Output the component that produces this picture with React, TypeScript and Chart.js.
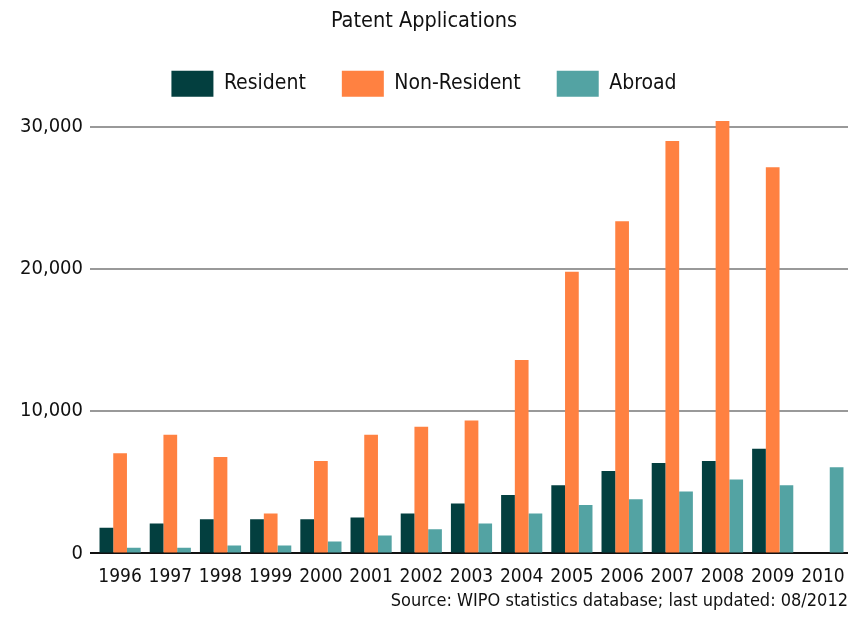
import React, { useEffect, useRef } from "react";
import { Chart, registerables } from "chart.js";

Chart.register(...registerables);

const years = ["1996", "1997", "1998", "1999", "2000", "2001", "2002", "2003", "2004", "2005", "2006", "2007", "2008", "2009", "2010"];
const resident = [1800, 2100, 2400, 2400, 2400, 2530, 2800, 3500, 4100, 4800, 5800, 6350, 6500, 7350, null];
const nonResident = [7050, 8350, 6770, 2800, 6500, 8350, 8900, 9350, 13600, 19800, 23350, 29000, 30400, 27150, null];
const abroad = [400, 400, 550, 550, 830, 1250, 1700, 2100, 2800, 3400, 3800, 4350, 5200, 4800, 6050];
const yTicks = [0, 10000, 20000, 30000];

const FONT = "'DejaVu Sans Condensed', 'DejaVu Sans', sans-serif";

export default function App() {
  const ref = useRef<HTMLCanvasElement | null>(null);
  useEffect(() => {
    if (!ref.current) return;
    const chart = new Chart(ref.current, {
      type: "bar",
      data: {
        labels: years,
        datasets: [
          { label: "Resident", data: resident, backgroundColor: "#033f3f" },
          { label: "Non-Resident", data: nonResident, backgroundColor: "#ff8141" },
          { label: "Abroad", data: abroad, backgroundColor: "#53a3a3" },
        ],
      },
      options: {
        responsive: false,
        animation: false,
        layout: { padding: { left: 0, right: 14, top: 0, bottom: 6 } },
        datasets: { bar: { barPercentage: 1, categoryPercentage: 0.82 } },
        plugins: {
          tooltip: { enabled: false },
          title: {
            display: true,
            text: "Patent Applications",
            color: "#111",
            font: { family: FONT, size: 21.5, weight: "normal" },
            padding: { top: 9, bottom: 0 },
          },
          legend: {
            display: true,
            position: "top",
            labels: {
              boxWidth: 42,
              boxHeight: 26,
              padding: 36,
              color: "#111",
              font: { family: FONT, size: 21 },
            },
          },
          subtitle: {
            display: true,
            position: "bottom",
            align: "end",
            text: "Source: WIPO statistics database; last updated: 08/2012",
            color: "#111",
            font: { family: FONT, size: 18, weight: "normal" },
            padding: { top: 1, bottom: 0 },
          },
        },
        scales: {
          x: {
            grid: { display: false },
            border: { display: false },
            ticks: { color: "#111", font: { family: FONT, size: 19 }, padding: 4, maxRotation: 0, autoSkip: false },
            afterFit: (s: any) => { s.height = 36; },
          },
          y: {
            min: 0,
            max: 31400,
            afterBuildTicks: (s: any) => { s.ticks = yTicks.map((v) => ({ value: v })); },
            afterFit: (s: any) => { s.width = 95; },
            border: { display: false },
            grid: {
              color: (c: any) => (c.tick && c.tick.value === 0 ? "#111" : "#999"),
              lineWidth: 2,
              tickLength: 5,
            },
            ticks: {
              color: "#111",
              padding: 7,
              font: { family: FONT, size: 20 },
              callback: (v: any) => Number(v).toLocaleString("en-US"),
            },
          },
        },
      },
    });
    return () => chart.destroy();
  }, []);
  return (
    <div style={{ position: "fixed", left: 0, top: 0, width: 862, height: 618, background: "#fff" }}>
      <canvas ref={ref} width={862} height={618} style={{ width: 862, height: 618 }} />
    </div>
  );
}
